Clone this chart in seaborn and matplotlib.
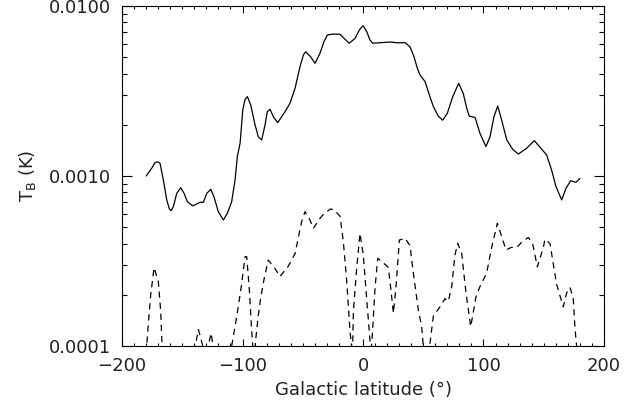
import numpy as np
import pandas as pd
import matplotlib
matplotlib.use('Agg')
import matplotlib.pyplot as plt
import matplotlib.ticker as mticker
import seaborn as sns

# 实线：总亮温度
solid_lon = [-180, -175.4, -172.6, -170.4, -168.5, -165.7, -162.9, -160.7, -159.3, -157.4,
             -154.6, -151.3, -148.5, -145.8, -141.3, -135.3, -132.5, -129.7, -126.4, -123.7,
             -120.1, -115.9, -112.6, -109, -106.2, -104.3, -102, -99.8, -97.9, -96, -93.2,
             -89.6, -86.9, -84.1, -81.3, -79.4, -77.2, -74.4, -70.8, -64.7, -60.6, -56.4,
             -52.3, -49.5, -47.6, -43.6, -39.8, -35.7, -32.4, -29.6, -24.6, -19.1, -14.9,
             -11.4, -6.6, -3, -0.3, 0.3, 3.1, 5.8, 8, 14.1, 22.4, 28, 34.9, 39, 42.3, 45.1,
             47.3, 51.5, 55.6, 58.4, 62.5, 66.1, 70, 74.4, 79.4, 83.2, 86.1, 88.2, 93, 97.1,
             102, 105.4, 108.7, 111.8, 115.1, 119.3, 124.2, 128.9, 135.8, 142.2, 146.9, 152.4,
             156.6, 160.2, 164.9, 168.5, 172.4, 176.8, 180]
solid_tb = [0.00100, 0.00111, 0.00120, 0.00121, 0.00119, 0.000946, 0.000723, 0.00064,
            0.000625, 0.00066, 0.00079, 0.000853, 0.00079, 0.000706, 0.000667, 0.000700,
            0.000700, 0.00079, 0.000835, 0.000755, 0.000617, 0.000551, 0.000603, 0.000706,
            0.000946, 0.0013, 0.00156, 0.00244, 0.00282, 0.00293, 0.00262, 0.0020, 0.0017,
            0.00163, 0.0020, 0.00239, 0.00247, 0.00223, 0.00206, 0.00239, 0.00268, 0.00328,
            0.0044, 0.00515, 0.00538, 0.00504, 0.0046, 0.00527, 0.00617, 0.00675, 0.00684,
            0.00682, 0.00637, 0.00604, 0.00645, 0.00723, 0.00763, 0.00763, 0.00706, 0.00631,
            0.00604, 0.00608, 0.00614, 0.00608, 0.00608, 0.00576, 0.00504, 0.0043, 0.00393,
            0.00359, 0.00292, 0.00256, 0.00225, 0.00213, 0.00234, 0.00292, 0.00351, 0.00306,
            0.0025, 0.00225, 0.00221, 0.00178, 0.00149, 0.0017, 0.00223, 0.00258, 0.00213,
            0.00163, 0.001436, 0.001346, 0.001456, 0.001614, 0.001476, 0.00133, 0.00108,
            0.000865, 0.000723, 0.000848, 0.000938, 0.000918, 0.000969]

# 虚线：偏振分量 (低于 1e-4 的部分被坐标轴裁掉)
dash_lon = [-180, -178.2, -176.2, -173.4, -169.9, -167.9, -167, -165, -140.5, -139.3,
            -136.6, -133, -131, -129, -128.4, -126.1, -124.2, -122, -110, -109, -104.8,
            -101.2, -97.9, -96.5, -94.3, -92.4, -91.5, -90.5, -89, -87, -85, -82, -78.6,
            -73, -68.9, -62, -56.4, -50.9, -48.1, -44, -41.2, -36, -32.9, -27, -23.8,
            -19.1, -16.3, -13.5, -10.8, -9.4, -8.7, -8, -5.2, -2.5, 0.3, 3.1, 5.8, 6.6,
            7.8, 10, 12.2, 16.5, 21, 23, 25.2, 27.4, 30.2, 34.9, 39, 41.8, 45.9, 48.7, 50,
            51, 54, 55.6, 58.4, 63.9, 68, 70.8, 73.6, 76.3, 78.6, 81.9, 85.5, 89.4, 93.8,
            97, 102.6, 106.8, 111.5, 115.1, 118.7, 123, 127.6, 132, 137.2, 140.8, 144.7,
            149.7, 151, 155.2, 160.7, 166.2, 169, 171.8, 174.5, 176, 177.3]
dash_tb = [0.00009, 0.000135, 0.00020, 0.000289, 0.00024, 0.00016, 0.00011, 0.00006,
           0.00007, 0.0001, 0.000125, 0.0001, 0.00008, 0.00009, 0.0001, 0.000119,
           0.000098, 0.00007, 0.00007, 0.0001, 0.000149, 0.000219, 0.000335, 0.000335,
           0.000213, 0.000123, 0.0001, 0.00008, 0.00011, 0.00015, 0.00019, 0.00025,
           0.00032, 0.000285, 0.000256, 0.000295, 0.00035, 0.00054, 0.000617, 0.00055,
           0.000492, 0.00056, 0.000595, 0.00064, 0.000631, 0.00058, 0.00041, 0.00024,
           0.000122, 0.0001, 0.00009, 0.00016, 0.00029, 0.00046, 0.00034, 0.000187,
           0.000108, 0.00009, 0.000119, 0.00022, 0.000328, 0.00031, 0.00029, 0.00022,
           0.000156, 0.000223, 0.00042, 0.00043, 0.00039, 0.000268, 0.000163, 0.00013,
           0.0001, 0.00007, 0.00007, 0.000104, 0.00015, 0.00017, 0.00019, 0.000183,
           0.000223, 0.000343, 0.000402, 0.00035, 0.000205, 0.00013, 0.000195, 0.000223,
           0.000268, 0.00038, 0.000527, 0.00044, 0.000367, 0.00038, 0.00038, 0.00041,
           0.000435, 0.0004, 0.000292, 0.00038, 0.000425, 0.0004, 0.00023, 0.00017,
           0.000205, 0.000221, 0.00019, 0.000125, 0.0001]

solid = pd.DataFrame({"lon": solid_lon, "tb": solid_tb})
dash = pd.DataFrame({"lon": dash_lon, "tb": dash_tb})

sns.set_style("ticks")
plt.rcParams['font.family'] = ['DejaVu Sans']
plt.rcParams['lines.scale_dashes'] = False

fig = plt.figure(figsize=(6.3, 4.11), dpi=100)
ax = fig.add_axes([0.1937, 0.1582, 0.765, 0.8272])

sns.lineplot(data=solid, x="lon", y="tb", sort=False, estimator=None,
             color="black", linewidth=0.9, ax=ax)
sns.lineplot(data=dash, x="lon", y="tb", sort=False, estimator=None,
             color="black", linewidth=0.9, ax=ax)
ax.lines[-1].set_dashes((4.5, 3.5))

ax.set_yscale("log")
ax.set_xlim(-200, 200)
ax.set_ylim(1e-4, 1e-2)

ax.xaxis.set_major_locator(mticker.MultipleLocator(100))
ax.xaxis.set_minor_locator(mticker.MultipleLocator(10))
ax.xaxis.set_major_formatter(mticker.FuncFormatter(lambda v, p: f"{v:.0f}".replace("-", "\u2212")))
ax.yaxis.set_major_locator(mticker.FixedLocator([1e-4, 1e-3, 1e-2]))
ax.yaxis.set_minor_locator(mticker.LogLocator(base=10, subs=np.arange(2, 10)))
ax.yaxis.set_major_formatter(mticker.FuncFormatter(lambda v, p: f"{v:.4f}"))
ax.yaxis.set_minor_formatter(mticker.NullFormatter())

ax.tick_params(axis="both", which="both", direction="in", top=True, right=True,
               color="black", width=0.8, labelsize=13, labelcolor="#222222")
ax.tick_params(axis="x", which="major", length=5, pad=8)
ax.tick_params(axis="x", which="minor", length=2.5)
ax.tick_params(axis="y", which="major", length=7, pad=8)
ax.tick_params(axis="y", which="minor", length=3.5)
for sp in ax.spines.values():
    sp.set_visible(True)
    sp.set_color("black")
    sp.set_linewidth(0.8)

ax.set_xlabel("Galactic latitude (\u00b0)", fontsize=13, color="#222222", labelpad=4)
ax.set_ylabel(r"T$_{\mathrm{B}}$ (K)", fontsize=13, color="#222222", labelpad=8)

fig.savefig("out.png", dpi=100)
plt.close(fig)
